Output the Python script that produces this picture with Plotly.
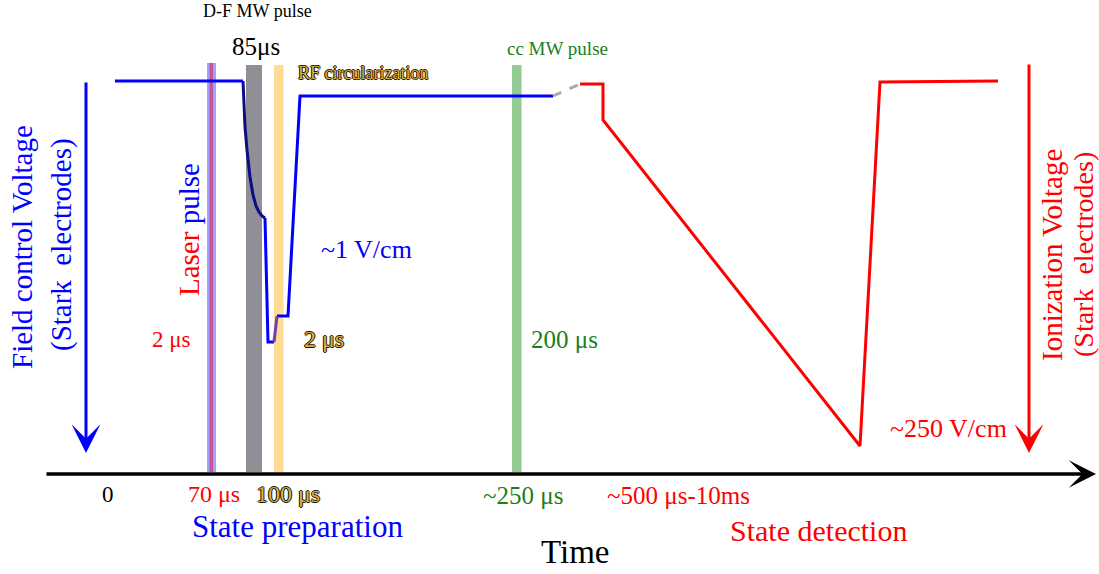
import plotly.graph_objects as go

# ---- schematic data (pixel-like schematic units: x = time position, y = level, y grows downward) ----
prep_top_x = [115, 243]
prep_top_y = [81, 81]
df_curve_x = [243, 244, 245, 247, 250, 253, 256, 259, 262, 265]
df_curve_y = [81, 105, 127, 150, 177, 195, 206, 212, 216, 218]
drop_x = [265, 268, 274]
drop_y = [218, 342, 342]
rf_step_x = [274, 277]
rf_step_y = [342, 316]
rise_x = [277, 288, 300, 553]
rise_y = [316, 316, 96, 96]
gap_x = [553, 580]
gap_y = [96, 84]
detect_x = [580, 603, 603, 860, 880, 998]
detect_y = [84, 84, 120, 446, 82, 81]

# pulses: (x0, x1, y_top, y_bottom, color)
pulse_names = ["laser_wide", "laser_core", "df_mw", "rf", "cc_mw"]
pulse_x0 = [207, 209.5, 246, 274, 512]
pulse_x1 = [216, 213, 262, 283.5, 521.5]
pulse_top = [63, 63, 65, 65, 65]
pulse_bottom = [472, 472, 472, 472, 472]
pulse_colors = ["rgba(110,110,255,0.65)", "rgba(220,40,80,0.6)", "rgba(128,128,134,0.88)",
                "rgba(255,200,90,0.65)", "rgba(120,190,120,0.8)"]

SERIF = "Liberation Serif, Times New Roman, serif"
BLUE = "#0000ff"
RED = "#ff0000"
GREEN = "#1a7f1a"
GOLD = "#e0b040"
OUTLINE = "-0.9px 0 #1a1400, 0.9px 0 #1a1400, 0 0.9px #1a1400, 0 -0.9px #1a1400"

fig = go.Figure()

def seg(x, y, color, width=3, dash=None):
    fig.add_trace(go.Scatter(x=x, y=y, mode="lines", hoverinfo="skip",
                             line=dict(color=color, width=width, dash=dash)))

seg(prep_top_x, prep_top_y, BLUE)
seg(drop_x, drop_y, BLUE)
seg(rise_x, rise_y, BLUE)
seg(df_curve_x, df_curve_y, "#0c0c84")
seg(rf_step_x, rf_step_y, "#7040b0")
seg(gap_x, gap_y, "#aaaaaa", dash="dash")
seg(detect_x, detect_y, RED)

for x0, x1, t, b, c in zip(pulse_x0, pulse_x1, pulse_top, pulse_bottom, pulse_colors):
    fig.add_shape(type="rect", x0=x0, x1=x1, y0=t, y1=b, fillcolor=c,
                  line=dict(width=0), layer="below")

# arrows
fig.add_annotation(x=1096, y=474, ax=45, ay=474, axref="x", ayref="y", xref="x", yref="y",
                   showarrow=True, arrowhead=3, arrowsize=1.3, arrowwidth=3.5, arrowcolor="black", text="")
fig.add_annotation(x=86, y=453, ax=86, ay=81, axref="x", ayref="y", xref="x", yref="y",
                   showarrow=True, arrowhead=3, arrowsize=1.6, arrowwidth=3, arrowcolor=BLUE, text="")
fig.add_annotation(x=1029, y=453, ax=1029, ay=63, axref="x", ayref="y", xref="x", yref="y",
                   showarrow=True, arrowhead=3, arrowsize=1.6, arrowwidth=3, arrowcolor=RED, text="")

def label(x, y, text, size, color="black", angle=0, xanchor="center", shadow=None, weight="normal"):
    font = dict(family=SERIF, size=size, color=color, weight=weight)
    if shadow:
        font["shadow"] = shadow
    fig.add_annotation(x=x, y=y, text=text, showarrow=False, textangle=angle,
                       xanchor=xanchor, yanchor="middle", font=font)

label(257, 11, "D-F MW pulse", 18)
label(256, 46, "85μs", 25)
label(296, 73, "RF circularization", 18, GOLD, xanchor="left", shadow=OUTLINE)
label(557, 48, "cc MW pulse", 19, GREEN)
label(189, 230, "<span style='color:#ff0000'>Laser</span> pulse", 29, BLUE, angle=-90)
label(171, 339, "2 μs", 23, RED)
label(324, 339, "2 μs", 24, GOLD, shadow=OUTLINE)
label(366, 249, "~1 V/cm", 26, BLUE)
label(564, 339, "200 μs", 25, GREEN)
label(948, 428, "~250 V/cm", 26, RED)
label(22, 247, "Field control Voltage", 29, BLUE, angle=-90)
label(61, 245, "(Stark\u00a0 electrodes)", 29, BLUE, angle=-90)
label(1052, 255, "Ionization Voltage", 29, RED, angle=-90)
label(1083, 255, "(Stark\u00a0 electrodes)", 28, RED, angle=-90)

label(108, 494, "0", 23)
label(214, 494, "70 μs", 24, RED)
label(288, 494, "100 μs", 24, GOLD, shadow=OUTLINE)
label(523, 495, "~250 μs", 25, GREEN)
label(678, 495, "~500 μs-10ms", 25, RED)
label(297, 526, "State preparation", 31, BLUE)
label(818, 530, "State detection", 30, RED)
label(575, 552, "Time", 33)

fig.update_layout(
    width=1099, height=574, margin=dict(l=0, r=0, t=0, b=0),
    paper_bgcolor="white", plot_bgcolor="white", showlegend=False,
    xaxis=dict(range=[0, 1099], visible=False, fixedrange=True),
    yaxis=dict(range=[574, 0], visible=False, fixedrange=True),
)

fig.write_html("out.html", config={"displayModeBar": False},
               post_script="document.body.style.margin='0';document.body.style.overflow='hidden';")
